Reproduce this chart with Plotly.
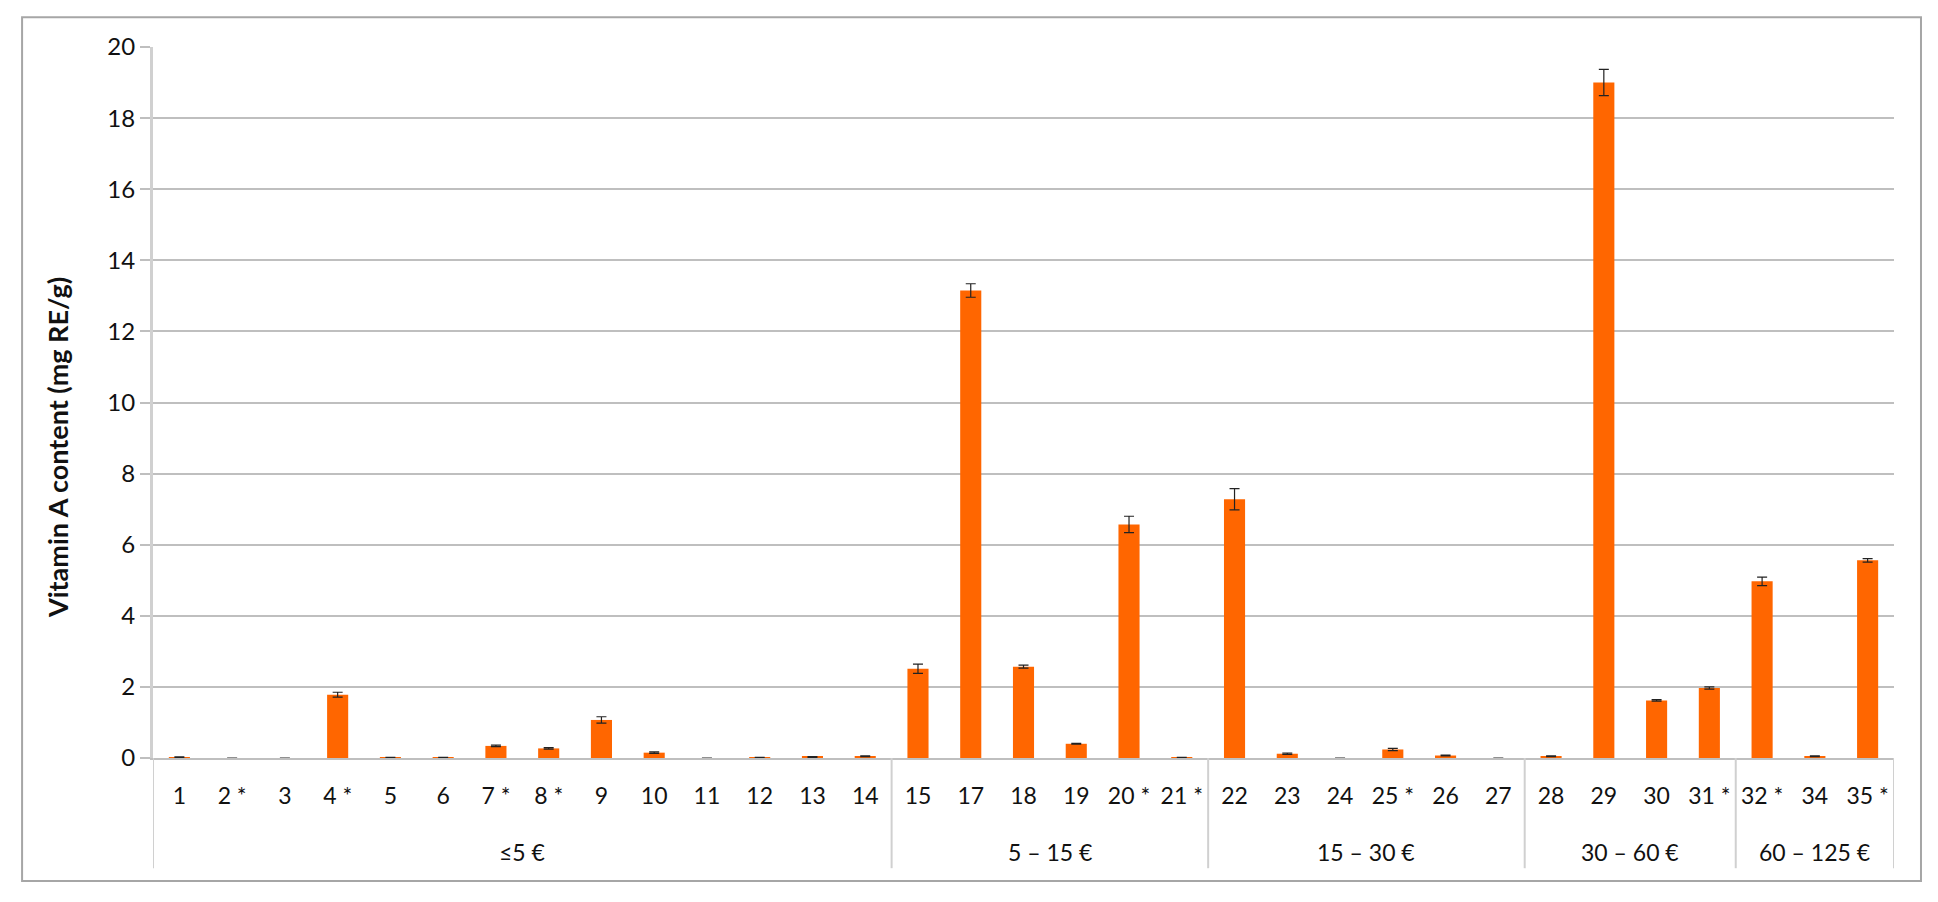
import plotly.graph_objects as go

# sample numbers and price groups
labels = ['1', '2 *', '3', '4 *', '5', '6', '7 *', '8 *', '9', '10', '11', '12', '13', '14',
          '15', '17', '18', '19', '20 *', '21 *',
          '22', '23', '24', '25 *', '26', '27',
          '28', '29', '30', '31 *',
          '32 *', '34', '35 *']
vitamin_a = [0.02, 0, 0, 1.78, 0.01, 0.01, 0.34, 0.27, 1.07, 0.15, 0, 0.005, 0.03, 0.05,
             2.51, 13.15, 2.57, 0.40, 6.57, 0.01,
             7.28, 0.12, 0, 0.24, 0.07, 0,
             0.05, 19.0, 1.62, 1.97,
             4.97, 0.05, 5.56]
sd = [0.01, 0, 0, 0.07, 0.01, 0.01, 0.02, 0.02, 0.09, 0.02, 0, 0.01, 0.01, 0.01,
      0.13, 0.19, 0.04, 0.01, 0.23, 0.01,
      0.30, 0.02, 0, 0.03, 0.01, 0,
      0.01, 0.37, 0.02, 0.03,
      0.12, 0.01, 0.05]
groups = ['≤5 €', '5 – 15 €', '15 – 30 €', '30 – 60 €', '60 – 125 €']
group_sizes = [14, 6, 6, 4, 3]
y_ticks = [0, 2, 4, 6, 8, 10, 12, 14, 16, 18, 20]

x = list(range(len(labels)))

fig = go.Figure()
fig.add_trace(go.Bar(
    x=x, y=vitamin_a,
    marker=dict(color='#FF6600', line=dict(width=0)),
    error_y=dict(type='data', array=sd, color='#222222', thickness=1.2, width=5),
))

# group dividers and labels under the axis
line_grey = '#d0d0d0'
start = 0
for name, n in zip(groups, group_sizes):
    fig.add_shape(type='line', xref='x', yref='paper',
                  x0=start - 0.5, x1=start - 0.5, y0=0, y1=-0.155,
                  line=dict(color=line_grey, width=2))
    fig.add_annotation(x=start + (n - 1) / 2, y=-0.132, xref='x', yref='paper',
                       text=name, showarrow=False, yanchor='middle',
                       font=dict(family='Lato', size=23, color='#111111'))
    start += n
fig.add_shape(type='line', xref='x', yref='paper',
              x0=start - 0.5, x1=start - 0.5, y0=0, y1=-0.155,
              line=dict(color=line_grey, width=2))

# y title sits a little below the middle, as in the original
fig.add_annotation(x=-0.0551, y=0.436, xref='paper', yref='paper',
                   text='<b>Vitamin A content (mg RE/g)</b>', textangle=-90,
                   showarrow=False, xanchor='center', yanchor='middle',
                   font=dict(family='Lato', size=27, color='#111111'))

# outer frame
fig.add_shape(type='rect', xref='paper', yref='paper',
              x0=-0.0752, x1=1.0155, y0=-0.173, y1=1.042,
              line=dict(color='#a6a6a6', width=2))

fig.update_layout(
    width=1930, height=894,
    margin=dict(l=145, r=44, t=39, b=144),
    paper_bgcolor='white', plot_bgcolor='white',
    bargap=0.6, showlegend=False,
    xaxis=dict(range=[-0.5, len(labels) - 0.5], tickvals=x, ticktext=labels,
               showgrid=False, zeroline=False, showline=True,
               linecolor='#bfbfbf', linewidth=2, ticks='',
               ticklabelstandoff=16,
               tickfont=dict(family='Lato', size=23, color='#111111')),
    yaxis=dict(range=[0, 20], tickvals=y_ticks,
               showgrid=True, gridcolor='#bfbfbf', gridwidth=2,
               zeroline=False, showline=True, linecolor=line_grey, linewidth=3,
               ticks='outside', ticklen=10, tickcolor='#bfbfbf', tickwidth=2,
               ticklabelstandoff=0,
               tickfont=dict(family='Lato', size=24, color='#111111')),
)

fig.write_html('out.html')
